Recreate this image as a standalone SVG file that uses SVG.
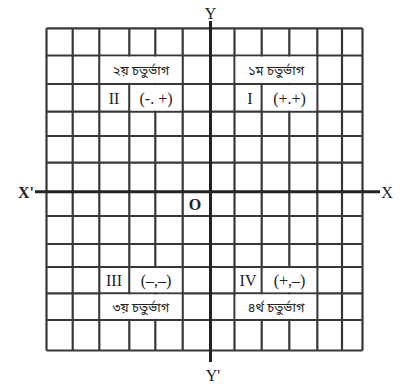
<svg xmlns="http://www.w3.org/2000/svg" width="399" height="389" viewBox="0 0 399 389">
<style>
.g{stroke:#383838;stroke-width:2.2;fill:none}
.ax{stroke:#222;stroke-width:3;fill:none}
.bg{fill:#fff;stroke:none}
.lat{font-family:"Liberation Serif","DejaVu Serif",serif;font-size:16px;fill:#222;text-anchor:middle}
.axl{font-weight:bold}
.bn{font-family:"Noto Sans Bengali","Noto Serif Bengali","Lohit Bengali","FreeSerif",serif;font-size:13px;fill:#222;text-anchor:middle}
</style>
<rect width="399" height="389" fill="#fff"/>
<g id="grid" class="g">
<path d="M46.5 28.3V350.5M72.7 28.3V350.5M99.3 28.3V350.5M129.3 28.3V350.5M155.3 28.3V350.5M182.7 28.3V350.5M234.5 28.3V350.5M261.7 28.3V350.5M289.3 28.3V350.5M317.3 28.3V350.5M342 28.3V350.5M362.5 28.3V350.5"/>
<path d="M46.5 28.3H362.5M46.5 55.5H362.5M46.5 84H362.5M46.5 111.7H362.5M46.5 136H362.5M46.5 162.7H362.5M46.5 216H362.5M46.5 244H362.5M46.5 267H362.5M46.5 293.3H362.5M46.5 320H362.5M46.5 350.5H362.5"/>
</g>
<g id="label-backgrounds" class="bg">
<rect x="100.6" y="56.6" width="80.8" height="26.3"/>
<rect x="130.6" y="85.1" width="50.8" height="25.5"/>
<rect x="235.6" y="56.6" width="80.6" height="26.3"/>
<rect x="262.8" y="85.1" width="53.4" height="25.5"/>
<rect x="130.6" y="268.1" width="50.8" height="24.1"/>
<rect x="100.6" y="294.4" width="80.8" height="24.5"/>
<rect x="262.8" y="268.1" width="53.4" height="24.1"/>
<rect x="235.6" y="294.4" width="80.6" height="24.5"/>
</g>
<g id="axes">
<path class="ax" d="M35 191.7H380"/>
<path class="ax" d="M210.5 21V362"/>
</g>
<g id="axis-labels">
<text class="lat axl" x="26" y="198">X'</text>
<text class="lat" x="387" y="198">X</text>
<text class="lat" x="210.5" y="19">Y</text>
<text class="lat" x="213" y="381">Y'</text>
<text class="lat axl" x="195" y="210">O</text>
</g>
<g id="q2">
<text class="bn" x="141" y="75">২য় চতুর্ভাগ</text>
<text class="lat" x="114" y="104">II</text>
<text class="lat" x="156" y="104">(-. +)</text>
</g>
<g id="q1">
<text class="bn" x="276" y="75">১ম চতুর্ভাগ</text>
<text class="lat" x="250" y="104">I</text>
<text class="lat" x="289.5" y="104">(+.+)</text>
</g>
<g id="q3">
<text class="lat" x="114" y="286">III</text>
<text class="lat" x="156" y="286">(–,–)</text>
<text class="bn" x="141" y="312">৩য় চতুর্ভাগ</text>
</g>
<g id="q4">
<text class="lat" x="248" y="286">IV</text>
<text class="lat" x="289.5" y="286">(+,–)</text>
<text class="bn" x="276" y="312">৪র্থ চতুর্ভাগ</text>
</g>
</svg>
